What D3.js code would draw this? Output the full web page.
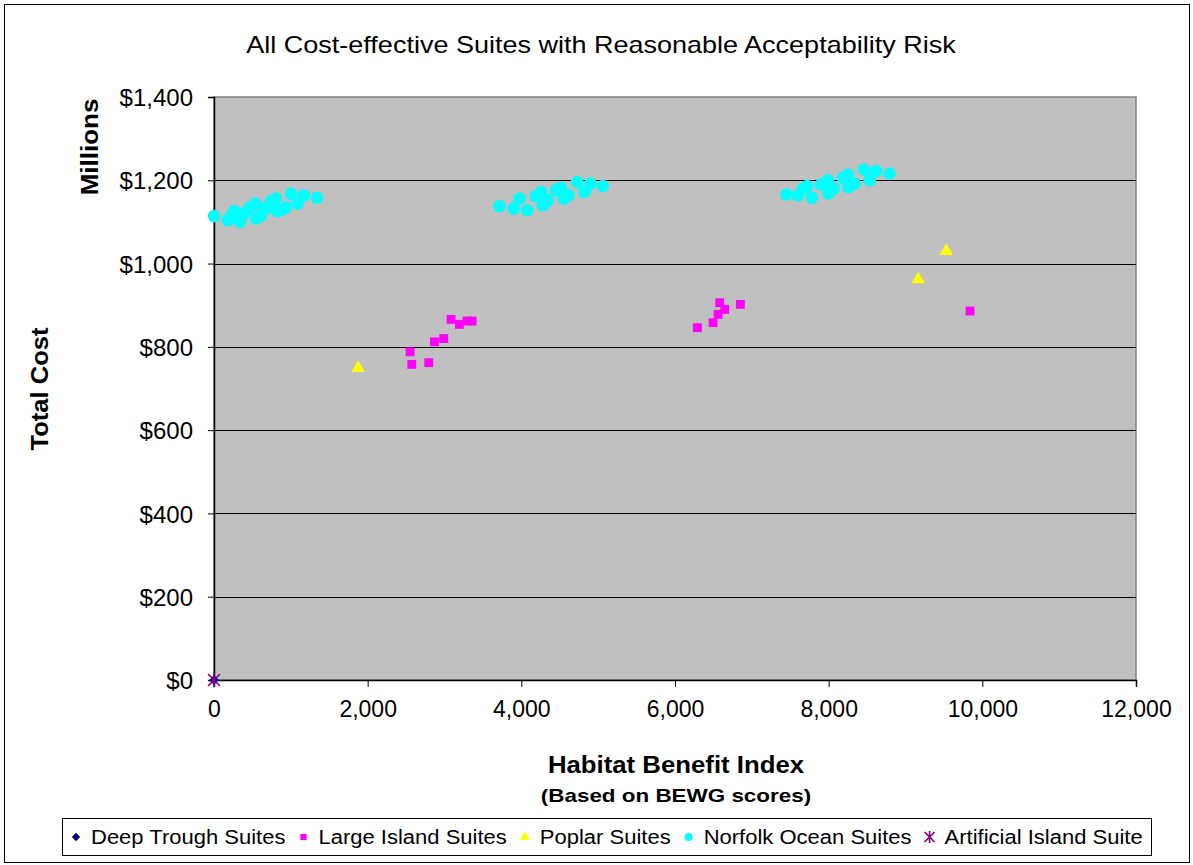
<!DOCTYPE html>
<html>
<head>
<meta charset="utf-8">
<script src="https://cdn.jsdelivr.net/npm/d3@7"></script>
<style>
  html, body { margin: 0; padding: 0; background: #fff; }
  svg text { font-family: "Liberation Sans", Arial, sans-serif; fill: #000; }
</style>
</head>
<body>
<svg id="chart" width="1193" height="865"></svg>
<script>
// Habitat benefit index (x) vs total cost in $ millions (y), by suite family
const deepTroughX = [0];
const deepTroughY = [0];

const largeIslandX = [2552, 2574, 2795, 2869, 2990, 3086, 3194, 3294, 3359,
                      6291, 6495, 6561, 6582, 6647, 6851, 9840];
const largeIslandY = [788, 758, 762, 812, 820, 866, 854, 862, 862,
                      846, 858, 878, 906, 890, 902, 886];

const poplarX = [1875, 9165, 9530];
const poplarY = [749, 962, 1030];

const norfolkX = [0, 178, 230, 264, 338, 391, 460, 538, 547, 612, 677, 742, 807, 820, 872, 938, 1002, 1090, 1168, 1341,
                  3715, 3898, 3976, 4076, 4184, 4258, 4280, 4345, 4453, 4518, 4553, 4614, 4727, 4822, 4900, 5061,
                  7448, 7600, 7665, 7721, 7782, 7903, 7990, 7998, 8068, 8185, 8250, 8258, 8337, 8459, 8532, 8619, 8792];
const norfolkY = [1114, 1104, 1116, 1126, 1100, 1120, 1134, 1144, 1108, 1116, 1133, 1150, 1156, 1126, 1128, 1135, 1168, 1144, 1164, 1158,
                  1138, 1132, 1156, 1128, 1162, 1172, 1140, 1152, 1176, 1182, 1156, 1164, 1196, 1172, 1192, 1186,
                  1166, 1164, 1180, 1186, 1158, 1190, 1200, 1168, 1180, 1206, 1214, 1184, 1192, 1226, 1200, 1222, 1216];

const artificialX = [0];
const artificialY = [0];

const xTicks = [0, 2000, 4000, 6000, 8000, 10000, 12000];
const yTicks = [0, 200, 400, 600, 800, 1000, 1200, 1400];

const svg = d3.select("#chart");

// outer chart frame
svg.append("rect").attr("x", 4.5).attr("y", 4.5).attr("width", 1185).attr("height", 858)
  .attr("fill", "#fff").attr("stroke", "#000").attr("stroke-width", 1);

const plot = { left: 214, top: 97, right: 1136, bottom: 680 };

const x = d3.scaleLinear().domain([0, 12000]).range([plot.left, plot.right]);
const y = d3.scaleLinear().domain([0, 1400]).range([plot.bottom, plot.top]);

// plot background
svg.append("rect")
  .attr("x", plot.left).attr("y", plot.top)
  .attr("width", plot.right - plot.left).attr("height", plot.bottom - plot.top)
  .attr("fill", "#C0C0C0").attr("stroke", "#808080").attr("stroke-width", 1.5);

// horizontal gridlines
svg.append("g").selectAll("line")
  .data(yTicks.filter(d => d > 0 && d < 1400))
  .join("line")
  .attr("x1", plot.left).attr("x2", plot.right)
  .attr("y1", d => Math.round(y(d)) + 0.5).attr("y2", d => Math.round(y(d)) + 0.5)
  .attr("stroke", "#000").attr("stroke-width", 1);

const fmtDollar = d => "$" + d3.format(",")(d);

// y axis
const yAxis = svg.append("g")
  .attr("transform", `translate(${plot.left},0)`)
  .call(d3.axisLeft(y).tickValues(yTicks).tickFormat(fmtDollar).tickSize(6).tickPadding(15));
yAxis.select(".domain").attr("stroke", "#000").attr("stroke-width", 1.5);
yAxis.selectAll(".tick line").attr("stroke", "#000");
yAxis.selectAll(".tick text").attr("font-size", 24).attr("dy", "0.36em")
  .style("font-family", '"Liberation Sans", Arial, sans-serif');

// x axis
const xAxis = svg.append("g")
  .attr("transform", `translate(0,${plot.bottom})`)
  .call(d3.axisBottom(x).tickValues(xTicks).tickFormat(d3.format(",")).tickSize(7).tickPadding(14));
xAxis.select(".domain").attr("stroke", "#000").attr("stroke-width", 1.5);
xAxis.selectAll(".tick line").attr("stroke", "#000");
xAxis.selectAll(".tick text").attr("font-size", 23)
  .style("font-family", '"Liberation Sans", Arial, sans-serif');

// widened text: the chart's lettering runs a little wider than plain Arial
function wideText(sel, stretch) {
  const w = sel.node().getComputedTextLength();
  sel.attr("textLength", w * stretch).attr("lengthAdjust", "spacingAndGlyphs");
  return sel;
}

// titles
wideText(svg.append("text").attr("x", 601).attr("y", 53).attr("text-anchor", "middle")
  .attr("font-size", 24).text("All Cost-effective Suites with Reasonable Acceptability Risk"), 1.125);

wideText(svg.append("text").attr("x", 676).attr("y", 773).attr("text-anchor", "middle")
  .attr("font-size", 23).attr("font-weight", "bold").text("Habitat Benefit Index"), 1.12);
wideText(svg.append("text").attr("x", 676).attr("y", 802).attr("text-anchor", "middle")
  .attr("font-size", 19).attr("font-weight", "bold").text("(Based on BEWG scores)"), 1.18);

wideText(svg.append("text").attr("transform", "translate(48,389) rotate(-90)").attr("text-anchor", "middle")
  .attr("font-size", 23).attr("font-weight", "bold").text("Total Cost"), 1.11);
wideText(svg.append("text").attr("transform", "translate(98,147) rotate(-90)").attr("text-anchor", "middle")
  .attr("font-size", 23).attr("font-weight", "bold").text("Millions"), 1.13);

// marker drawing helpers
const sym = {
  diamond: d3.symbol().type(d3.symbolDiamond2).size(60),
  square: d3.symbol().type(d3.symbolSquare2).size(100),
  triangle: d3.symbol().type(d3.symbolTriangle).size(80),
  circle: d3.symbol().type(d3.symbolCircle).size(125)
};
function asterisk(g, s) {
  g.append("path")
    .attr("d", `M${-s},${-s}L${s},${s}M${-s},${s}L${s},${-s}M0,${-s * 1.2}L0,${s * 1.2}`)
    .attr("stroke", "#800080").attr("stroke-width", 1.6).attr("fill", "none");
}

const marks = svg.append("g");

function drawSeries(xs, ys, gen, color) {
  marks.append("g").selectAll("path")
    .data(xs.map((v, i) => [v, ys[i]]))
    .join("path")
    .attr("transform", d => `translate(${x(d[0])},${y(d[1])})`)
    .attr("d", gen)
    .attr("fill", color);
}

drawSeries(norfolkX, norfolkY, sym.circle, "#00FFFF");
drawSeries(largeIslandX, largeIslandY, sym.square, "#FF00FF");
drawSeries(poplarX, poplarY, sym.triangle, "#FFFF00");
drawSeries(deepTroughX, deepTroughY, sym.diamond, "#000080");
artificialX.forEach((v, i) => {
  asterisk(marks.append("g").attr("transform", `translate(${x(v)},${y(artificialY[i])})`), 6);
});

// legend
const legend = svg.append("g");
legend.append("rect").attr("x", 62.5).attr("y", 818.5).attr("width", 1089).attr("height", 37)
  .attr("fill", "#fff").attr("stroke", "#000").attr("stroke-width", 1);

const legendItems = [
  { label: "Deep Trough Suites", gen: d3.symbol().type(d3.symbolDiamond2).size(45), color: "#000080" },
  { label: "Large Island Suites", gen: d3.symbol().type(d3.symbolSquare2).size(50), color: "#FF00FF" },
  { label: "Poplar Suites", gen: d3.symbol().type(d3.symbolTriangle).size(45), color: "#FFFF00" },
  { label: "Norfolk Ocean Suites", gen: d3.symbol().type(d3.symbolCircle).size(50), color: "#00FFFF" },
  { label: "Artificial Island Suite", gen: null, color: "#800080" }
];
let lx = 76;
const ly = 837;
legendItems.forEach(item => {
  const g = legend.append("g").attr("transform", `translate(${lx},${ly})`);
  if (item.gen) {
    g.append("path").attr("d", item.gen).attr("fill", item.color);
  } else {
    asterisk(g, 5);
  }
  const t = wideText(legend.append("text").attr("x", lx + 15).attr("y", ly + 7)
    .attr("font-size", 20).text(item.label), 1.1);
  lx = lx + 15 + (+t.attr("textLength")) + 18;
});
</script>
</body>
</html>
